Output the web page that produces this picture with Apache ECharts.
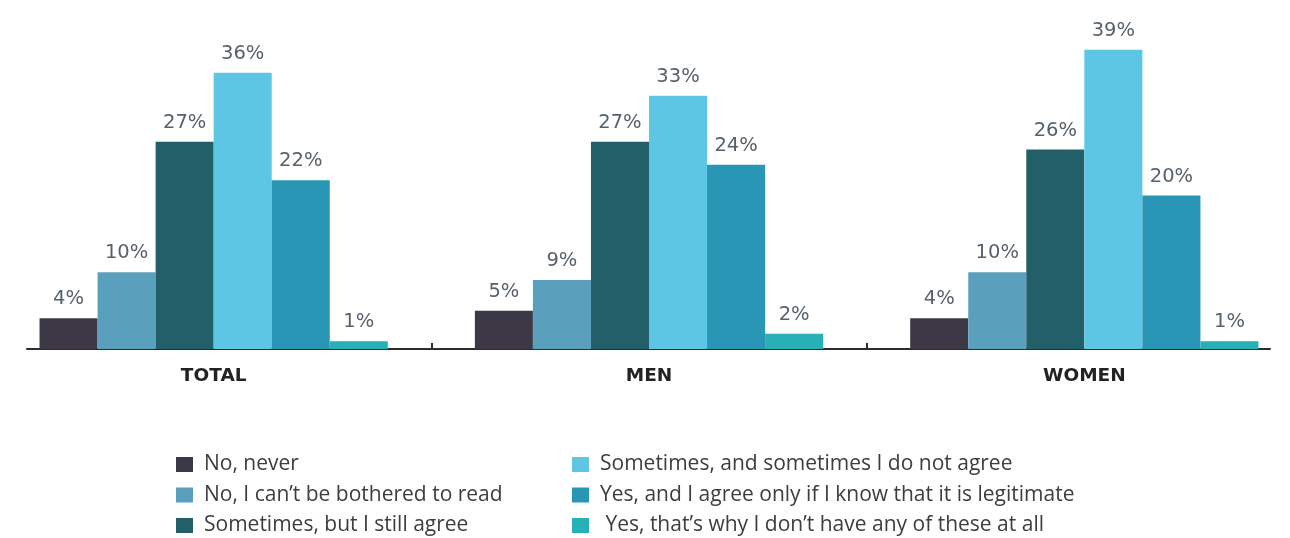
<!DOCTYPE html>
<html>
<head>
<meta charset="utf-8">
<script src="https://cdn.jsdelivr.net/npm/echarts@6/dist/echarts.min.js"></script>
<style>
  html, body { margin: 0; padding: 0; background: #ffffff; }
  #chart { width: 1290px; height: 538px; }
</style>
</head>
<body>
<div id="chart"></div>
<script>
// Survey groups along the x axis
const groups = ['TOTAL', 'MEN', 'WOMEN'];

// Answer options (one bar series each)
const answers = [
  'No, never',
  'No, I can\u2019t be bothered to read',
  'Sometimes, but I still agree',
  'Sometimes, and sometimes I do not agree',
  'Yes, and I agree only if I know that it is legitimate',
  ' Yes, that\u2019s why I don\u2019t have any of these at all'
];

// Share of respondents (%) per answer, in group order TOTAL / MEN / WOMEN
const noNever        = [4, 5, 4];
const noBothered     = [10, 9, 10];
const sometimesAgree = [27, 27, 26];
const sometimesNot   = [36, 33, 39];
const yesLegitimate  = [22, 24, 20];
const yesNone        = [1, 2, 1];

const seriesValues = [noNever, noBothered, sometimesAgree, sometimesNot, yesLegitimate, yesNone];
const colors = ['#3d3846', '#5aa0bc', '#235f69', '#5cc6e4', '#2a96b5', '#27b0b5'];

const chart = echarts.init(document.getElementById('chart'), null, { renderer: 'canvas' });

const legendText = { fontFamily: 'Open Sans', fontSize: 21, color: '#3d3d3d', lineHeight: 20, padding: [0, 0, 0, 6] };
const legendBase = {
  orient: 'vertical', top: 454, padding: 0, height: 95,
  itemWidth: 17, itemHeight: 15, itemGap: 9.5,
  icon: 'rect', selectedMode: false,
  textStyle: legendText
};

chart.setOption({
  animation: false,
  backgroundColor: '#ffffff',
  color: colors,
  grid: [
    { left: -4, width: 1306, top: 42, bottom: 189, containLabel: false, outerBoundsMode: 'none' },
    { left: 27, right: 20, top: 42, bottom: 189, containLabel: false, outerBoundsMode: 'none' }
  ],
  legend: [
    Object.assign({ data: answers.slice(0, 3), left: 176 }, legendBase),
    Object.assign({ data: answers.slice(3), left: 572 }, legendBase)
  ],
  xAxis: [
    {
      type: 'category', data: groups, gridIndex: 0,
      axisLine: { show: false },
      axisTick: { show: true, inside: true, length: 6, lineStyle: { color: '#2d2d2d', width: 2 } },
      axisLabel: { margin: 18, fontFamily: 'DejaVu Sans', fontWeight: 'bold', fontSize: 18.5, color: '#222222' }
    },
    {
      // baseline under the bars
      type: 'value', gridIndex: 1, min: 0, max: 1,
      axisLine: { show: true, onZero: false, lineStyle: { color: '#2d2d2d', width: 2 } },
      axisTick: { show: false }, axisLabel: { show: false }, splitLine: { show: false }
    }
  ],
  yAxis: [
    { type: 'value', gridIndex: 0, min: 0, max: 40, show: false, splitLine: { show: false } },
    { type: 'value', gridIndex: 1, min: 0, max: 1, show: false, splitLine: { show: false } }
  ],
  series: answers.map((name, i) => ({
    name,
    type: 'bar',
    xAxisIndex: 0, yAxisIndex: 0,
    data: seriesValues[i],
    barGap: '0%',
    barCategoryGap: '20%',
    itemStyle: { color: colors[i] },
    label: {
      show: true, position: 'top', distance: 9,
      formatter: '{c}%',
      fontFamily: 'DejaVu Sans', fontSize: 19.5, color: '#56616b'
    }
  }))
});
</script>
</body>
</html>
